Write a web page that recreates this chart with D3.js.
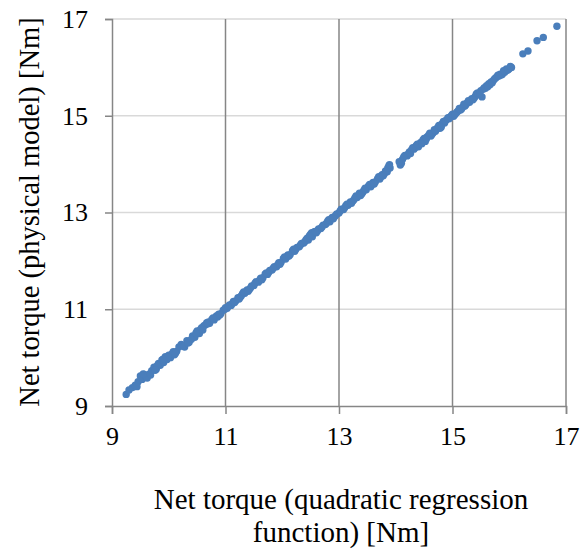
<!DOCTYPE html>
<html><head><meta charset="utf-8">
<script src="https://cdn.jsdelivr.net/npm/d3@7"></script>
<style>body{margin:0;background:#fff}svg{display:block}</style>
</head><body>
<script>
const xVals = [9.25,9.36,9.41,9.46,9.50,9.53,9.57,9.60,9.66,9.70,9.74,9.78,9.82,9.85,9.88,9.91,9.94,9.97,10.00,10.03,10.06,10.10,10.14,10.22,10.28,10.32,10.36,10.42,10.46,10.50,10.54,10.58,10.62,10.65,10.69,10.72,10.76,10.80,10.84,10.88,10.92,10.96,10.99,11.03,11.07,11.10,11.14,11.18,11.22,11.26,11.30,11.34,11.38,11.42,11.46,11.50,11.54,11.58,11.62,11.66,11.70,11.74,11.78,11.82,11.86,11.90,11.94,11.98,12.02,12.06,12.10,12.14,12.18,12.22,12.26,12.30,12.34,12.38,12.42,12.46,12.50,12.53,12.56,12.60,12.64,12.68,12.72,12.76,12.80,12.84,12.88,12.92,12.96,13.00,13.04,13.08,13.12,13.16,13.20,13.24,13.28,13.32,13.36,13.40,13.44,13.48,13.52,13.56,13.60,13.64,13.68,13.72,13.76,13.80,13.85,13.88,13.90,14.08,14.10,14.12,14.16,14.20,14.24,14.28,14.32,14.36,14.40,14.44,14.48,14.52,14.55,14.58,14.62,14.66,14.70,14.74,14.78,14.82,14.86,14.90,14.94,14.98,15.02,15.06,15.10,15.14,15.18,15.22,15.26,15.30,15.34,15.38,15.42,15.46,15.50,15.52,15.56,15.60,15.64,15.68,15.72,15.76,15.80,15.84,15.88,15.92,15.96,16.00,16.24,16.33,16.49,16.60,16.84,
9.62,9.80,9.98,10.18,10.40,10.56,10.70,10.86,11.00,11.12,11.28,11.44,11.60,11.76,11.92,12.08,12.24,12.40,12.52,12.62,12.78,12.94,13.10,13.26,13.42,13.58,13.74,13.82,14.22,14.34,14.50,14.64,14.72,14.80,14.84,14.96,15.08,15.24,15.40,15.54,15.66,15.78,15.86,15.95,16.04,
9.30,9.44,9.55,9.68,9.76,9.90,10.08,10.12,10.26,10.34,10.48,10.60,10.67,10.78,10.90,11.05,11.16,11.24,11.32,11.40,11.52,11.64,11.72,11.84,11.96,12.04,12.12,12.20,12.32,12.44,12.48,12.58,12.70,12.82,12.90,13.02,13.14,13.22,13.30,13.38,13.46,13.54,13.62,13.70,13.78,13.86,13.89,14.06,14.14,14.26,14.30,14.38,14.46,14.54,14.60,14.68,14.76,14.80,14.88,14.92,15.00,15.04,15.12,15.16,15.20,15.28,15.36,15.44,15.48,15.58,15.62,15.70,15.74,15.82,15.90,15.98,16.02];
const yVals = [9.24,9.38,9.43,9.50,9.62,9.55,9.65,9.61,9.66,9.73,9.80,9.76,9.88,9.84,9.95,9.90,10.02,9.96,10.05,10.00,10.08,10.06,10.13,10.27,10.22,10.35,10.32,10.45,10.42,10.55,10.50,10.62,10.66,10.68,10.70,10.71,10.79,10.78,10.86,10.90,10.91,10.98,11.00,11.02,11.09,11.08,11.16,11.17,11.24,11.25,11.32,11.33,11.40,11.41,11.48,11.49,11.57,11.56,11.64,11.65,11.73,11.72,11.80,11.81,11.88,11.88,11.96,11.97,12.05,12.04,12.12,12.13,12.21,12.20,12.28,12.29,12.36,12.37,12.44,12.43,12.55,12.50,12.60,12.58,12.66,12.67,12.74,12.75,12.82,12.81,12.90,12.91,12.97,12.99,13.07,13.06,13.14,13.15,13.22,13.23,13.30,13.31,13.40,13.38,13.46,13.47,13.55,13.53,13.62,13.63,13.70,13.69,13.78,13.80,13.84,13.97,13.92,13.98,14.02,14.10,14.18,14.17,14.25,14.30,14.31,14.38,14.36,14.45,14.50,14.47,14.56,14.60,14.58,14.65,14.68,14.76,14.74,14.84,14.85,14.92,14.94,15.00,14.99,15.05,15.10,15.12,15.18,15.20,15.27,15.28,15.35,15.36,15.45,15.44,15.52,15.39,15.58,15.62,15.66,15.70,15.73,15.78,15.84,15.86,15.86,15.90,15.94,15.97,16.28,16.34,16.55,16.62,16.85,
9.58,9.84,10.01,10.22,10.38,10.58,10.74,10.84,11.03,11.12,11.28,11.44,11.60,11.76,11.92,12.08,12.24,12.40,12.58,12.62,12.78,12.94,13.10,13.26,13.42,13.58,13.74,13.86,14.21,14.34,14.53,14.62,14.72,14.79,14.88,14.97,15.08,15.23,15.40,15.55,15.64,15.80,15.84,15.97,16.00,
9.33,9.40,9.66,9.64,9.74,9.97,10.12,10.09,10.24,10.30,10.51,10.57,10.72,10.82,10.88,11.06,11.14,11.21,11.36,11.37,11.54,11.61,11.75,11.85,11.93,12.08,12.10,12.24,12.33,12.47,12.52,12.61,12.70,12.85,12.87,13.03,13.17,13.19,13.34,13.35,13.50,13.58,13.59,13.74,13.76,13.92,13.99,14.05,14.15,14.22,14.34,14.41,14.42,14.52,14.64,14.71,14.80,14.76,14.90,14.96,15.03,15.02,15.15,15.14,15.24,15.31,15.33,15.47,15.46,15.57,15.60,15.68,15.76,15.82,15.93,15.95,16.02];
const xTicks = [9, 11, 13, 15, 17];
const yTicks = [9, 11, 13, 15, 17];
const xTitle = ["Net torque (quadratic regression", "function) [Nm]"];
const yTitle = "Net torque (physical model) [Nm]";

const W = 587, H = 559;
const svg = d3.select("body").append("svg").attr("width", W).attr("height", H);
const x = d3.scaleLinear().domain([9, 17]).range([112, 566]);
const y = d3.scaleLinear().domain([9, 17]).range([406, 19]);
const font = "'Liberation Serif','Times New Roman',serif";
const axisCol = "#868686";

svg.append("g").selectAll("line").data(yTicks.slice(1)).join("line")
  .attr("x1", x(9)).attr("x2", x(17)).attr("y1", d => y(d)).attr("y2", d => y(d))
  .attr("stroke", "#d9d9d9").attr("stroke-width", 1.5);
svg.append("g").selectAll("line").data(xTicks.slice(1)).join("line")
  .attr("x1", d => x(d)).attr("x2", d => x(d)).attr("y1", y(17)).attr("y2", y(9))
  .attr("stroke", axisCol).attr("stroke-width", 1.5);

const xAxis = svg.append("g").attr("transform", `translate(0,${y(9)})`)
  .call(d3.axisBottom(x).tickValues(xTicks).tickSize(8).tickPadding(13).tickFormat(d3.format("d")));
const yAxis = svg.append("g").attr("transform", `translate(${x(9)},0)`)
  .call(d3.axisLeft(y).tickValues(yTicks).tickSize(7).tickPadding(17).tickFormat(d3.format("d")));
[xAxis, yAxis].forEach(g => {
  g.select(".domain").attr("stroke", axisCol).attr("stroke-width", 1.5);
  g.selectAll(".tick line").attr("stroke", axisCol).attr("stroke-width", 1.5);
  g.selectAll(".tick text").attr("fill", "#000").style("font-family", font).style("font-size", "26px");
});

svg.append("g").selectAll("circle").data(xVals.map((v, i) => [v, yVals[i]])).join("circle")
  .attr("cx", d => x(d[0])).attr("cy", d => y(d[1])).attr("r", 3.7)
  .attr("fill", "#4a7ebb");

svg.append("text").attr("text-anchor", "middle").style("font-family", font).style("font-size", "29px")
  .selectAll("tspan").data(xTitle).join("tspan")
  .attr("x", 341).attr("y", (d, i) => 509 + i * 33).text(d => d);

svg.append("text").attr("transform", "translate(39,212) rotate(-90)").attr("text-anchor", "middle")
  .style("font-family", font).style("font-size", "28.5px").text(yTitle);
</script>
</body></html>
